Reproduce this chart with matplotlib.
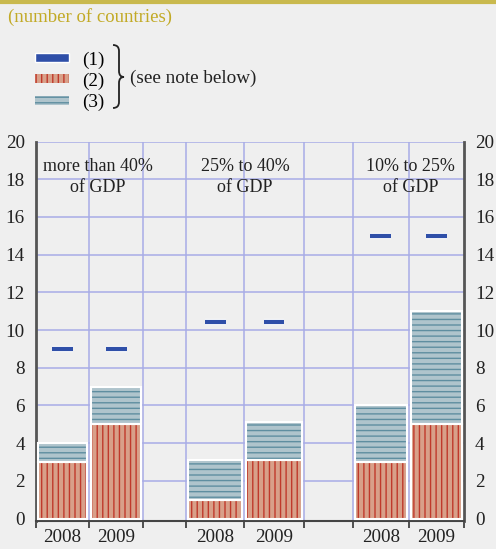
import matplotlib.pyplot as plt
import matplotlib.patheffects as pe
from matplotlib.patches import Patch, PathPatch
from matplotlib.path import Path
from matplotlib.lines import Line2D

plt.rcParams['font.family'] = ['Liberation Serif', 'DejaVu Serif']
plt.rcParams['hatch.linewidth'] = 1.0

groups = ['more than 40%\nof GDP', '25% to 40%\nof GDP', '10% to 25%\nof GDP']
years = ['2008', '2009']
series1 = [9.0, 9.0, 10.4, 10.4, 15.0, 15.0]      # (1) markers
series2 = [3.0, 5.0, 1.0, 3.1, 3.0, 5.0]          # (2) lower bars
series3 = [1.0, 2.0, 2.1, 2.0, 3.0, 6.0]          # (3) stacked on top
yticks = list(range(0, 21, 2))

# slot layout (2008, 2009, gap) x3, roughly as in the original
edges = [0, 53, 107, 150, 208, 267, 316, 372, 427]
bar_slots = [0, 1, 3, 4, 6, 7]
centers = [(edges[i] + edges[i + 1]) / 2 for i in bar_slots]
widths = [edges[i + 1] - edges[i] - 4 for i in bar_slots]

BG = '#efefef'
RED_FILL, RED_LINE = '#d8a089', '#c0392b'
BLUE_FILL, BLUE_LINE = '#afc4cc', '#5f8ea0'
MARK = '#2f4fa8'
GRID = '#a8ace6'
TXT = '#222222'
FS = 13.8

fig = plt.figure(figsize=(4.96, 5.49), dpi=100, facecolor=BG)
ax = fig.add_axes([36 / 496, 1 - 521 / 549, 428 / 496, (521 - 141.5) / 549])
ax.set_facecolor(BG)

bottoms = series2
ax.bar(centers, series2, width=widths, color=RED_FILL, edgecolor=RED_LINE,
       hatch='|||', linewidth=0, zorder=3)
ax.bar(centers, series3, bottom=bottoms, width=widths, color=BLUE_FILL,
       edgecolor=BLUE_LINE, hatch='---', linewidth=0, zorder=3)
# white outlines
ax.bar(centers, series2, width=widths, fill=False, edgecolor='white', linewidth=1.5, zorder=4)
ax.bar(centers, series3, bottom=bottoms, width=widths, fill=False, edgecolor='white',
       linewidth=1.5, zorder=4)

ax.plot(centers, series1, linestyle='none', marker='_', markersize=15, mew=3, color=MARK,
        zorder=5, path_effects=[pe.Stroke(linewidth=4.5, foreground='white'), pe.Normal()])

ax.set_xlim(edges[0], edges[-1])
ax.set_ylim(-0.13, 20)
ax.set_yticks(yticks)
ax.tick_params(axis='y', which='both', length=0, labelsize=FS, pad=8,
               labelleft=True, labelright=True, colors=TXT)
for y in yticks[1:]:
    ax.axhline(y, color=GRID, lw=1.1, zorder=1)
for x in edges[1:-1]:
    ax.axvline(x, color=GRID, lw=1.1, zorder=1)

ax.set_xticks(centers)
ax.set_xticklabels(years * 3)
ax.set_xticks(edges, minor=True)
ax.tick_params(axis='x', which='major', length=0, labelsize=FS, pad=6, colors=TXT)
ax.tick_params(axis='x', which='minor', length=5, width=1.2, direction='out', color='#333333')

for s in ['left', 'right']:
    ax.spines[s].set_color('#555555')
    ax.spines[s].set_linewidth(2)
ax.spines['bottom'].set_color('#444444')
ax.spines['bottom'].set_linewidth(1.5)
ax.spines['top'].set_visible(False)

label_x = [(edges[0] + edges[2]) / 2 + 8, (edges[3] + edges[5]) / 2, (edges[6] + edges[8]) / 2 + 2]
for x, g in zip(label_x, groups):
    ax.text(x, 19.1, g, ha='center', va='top', fontsize=13.0, linespacing=1.3,
            color=TXT, zorder=6)

# header
fig.add_artist(Line2D([0, 1], [1 - 1.5 / 549, 1 - 1.5 / 549], color='#c9b94e', lw=3))
fig.text(8 / 496, 1 - 17 / 549, '(number of countries)', color='#c2aa26', fontsize=13.5,
         ha='left', va='center')

handles = [Patch(facecolor=MARK, edgecolor='white', linewidth=1),
           Patch(facecolor=RED_FILL, edgecolor=RED_LINE, hatch='|||', linewidth=0),
           Patch(facecolor=BLUE_FILL, edgecolor=BLUE_LINE, hatch='---', linewidth=0)]
fig.legend(handles, ['(1)', '(2)', '(3)'], loc='upper left',
           bbox_to_anchor=(22 / 496, 1 - 38 / 549), frameon=False, fontsize=FS,
           handlelength=1.75, handleheight=0.35, labelspacing=0.2, handletextpad=0.7,
           borderpad=0.2)


def px(x, y):
    return (x / 496, 1 - y / 549)


brace = Path([px(113, 45), px(119, 45), px(119, 51), px(119, 71),
              px(119, 77), px(124, 77), px(119, 77), px(119, 83),
              px(119, 102), px(119, 108), px(113, 108)],
             [Path.MOVETO, Path.CURVE3, Path.CURVE3, Path.LINETO,
              Path.CURVE3, Path.CURVE3, Path.CURVE3, Path.CURVE3,
              Path.LINETO, Path.CURVE3, Path.CURVE3])
fig.add_artist(PathPatch(brace, transform=fig.transFigure, fill=False, edgecolor=TXT, lw=1.3))
fig.text(130 / 496, 1 - 78 / 549, '(see note below)', fontsize=FS, ha='left', va='center',
         color=TXT)

fig.savefig('out.png', dpi=100, facecolor=BG)
